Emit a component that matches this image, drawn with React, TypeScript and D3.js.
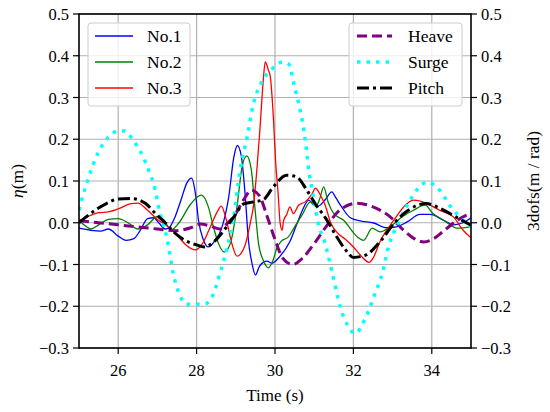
import * as d3 from 'd3';

type Pt = [number, number];

// wave elevation at the three probes (time s, eta m)
const no1: Pt[] = [
  [25.0, -0.013], [25.3, -0.018], [25.55, -0.02], [25.75, -0.015], [26.0, -0.032], [26.2, -0.042],
  [26.4, -0.038], [26.55, -0.02], [26.75, 0.01], [26.9, 0.012], [27.05, -0.002], [27.2, -0.015],
  [27.3, -0.012], [27.45, 0.014], [27.6, 0.054], [27.75, 0.095], [27.87, 0.107], [27.97, 0.07],
  [28.05, 0.005], [28.17, -0.04], [28.3, -0.058], [28.45, -0.045], [28.65, -0.01], [28.82, 0.062],
  [28.95, 0.157], [29.04, 0.185], [29.14, 0.16], [29.24, 0.065], [29.32, -0.04], [29.42, -0.1],
  [29.5, -0.125], [29.6, -0.105], [29.7, -0.095], [29.8, -0.092], [29.92, -0.097], [30.13, -0.08],
  [30.38, -0.045], [30.55, -0.005], [30.7, 0.03], [30.86, 0.054], [31.0, 0.042], [31.1, 0.04],
  [31.28, 0.055], [31.45, 0.074], [31.55, 0.06], [31.7, 0.038], [31.92, 0.012], [32.2, 0.004],
  [32.5, 0.0], [32.85, -0.012], [33.1, -0.01], [33.37, 0.002], [33.7, 0.02], [33.96, 0.02],
  [34.3, 0.006], [34.55, -0.005], [34.8, 0.0], [35.0, 0.012],
];
const no2: Pt[] = [
  [25.0, 0.006], [25.2, -0.01], [25.3, -0.015], [25.5, -0.005], [25.75, 0.008], [26.0, 0.01],
  [26.25, 0.0], [26.5, -0.015], [26.75, -0.005], [27.0, 0.015], [27.15, 0.008], [27.35, -0.017],
  [27.55, 0.0], [27.85, 0.045], [28.12, 0.066], [28.3, 0.038], [28.43, -0.01], [28.56, -0.05],
  [28.7, -0.07], [28.86, -0.05], [29.03, 0.038], [29.16, 0.134], [29.28, 0.16], [29.39, 0.13],
  [29.5, 0.024], [29.58, -0.05], [29.7, -0.09], [29.83, -0.108], [29.95, -0.09], [30.05, -0.06],
  [30.15, -0.045], [30.34, -0.034], [30.5, -0.01], [30.7, 0.02], [30.9, 0.05], [31.05, 0.04],
  [31.15, 0.06], [31.24, 0.086], [31.36, 0.048], [31.5, 0.022], [31.75, 0.006], [32.1, -0.034],
  [32.26, -0.042], [32.48, -0.013], [32.68, -0.022], [32.93, -0.01], [33.24, 0.014], [33.53, 0.03],
  [33.83, 0.042], [34.03, 0.022], [34.3, 0.006], [34.65, -0.013], [35.0, -0.01],
];
const no3: Pt[] = [
  [25.0, 0.005], [25.3, 0.018], [25.5, 0.024], [25.75, 0.026], [26.05, 0.035], [26.3, 0.045],
  [26.5, 0.047], [26.75, 0.03], [27.0, 0.008], [27.25, -0.008], [27.5, -0.03], [27.75, -0.055],
  [27.97, -0.065], [28.15, -0.05], [28.35, -0.01], [28.52, 0.025], [28.63, 0.04], [28.75, 0.01],
  [28.9, -0.05], [29.03, -0.08], [29.12, -0.075], [29.25, -0.05], [29.37, 0.0], [29.45, 0.04],
  [29.54, 0.13], [29.62, 0.23], [29.7, 0.34], [29.75, 0.385], [29.83, 0.366], [29.88, 0.35],
  [29.96, 0.25], [30.02, 0.14], [30.08, 0.07], [30.13, 0.0], [30.18, -0.018], [30.22, 0.005],
  [30.3, 0.02], [30.38, 0.038], [30.47, 0.022], [30.6, 0.042], [30.77, 0.05], [30.95, 0.07],
  [31.03, 0.083], [31.16, 0.066], [31.28, 0.042], [31.42, 0.0], [31.6, -0.025], [31.8, -0.04],
  [32.0, -0.058], [32.2, -0.08], [32.4, -0.095], [32.5, -0.085], [32.68, -0.045], [33.03, 0.006],
  [33.37, 0.046], [33.53, 0.054], [33.88, 0.046], [34.2, 0.03], [34.55, 0.014], [34.8, -0.018],
  [35.0, -0.036],
];

// 3 dof motions (m / rad)
const heave: Pt[] = [
  [25.0, 0.005], [25.5, 0.0], [26.0, -0.005], [26.5, -0.01], [27.0, -0.015], [27.45, -0.019],
  [27.85, -0.012], [28.1, -0.003], [28.35, -0.008], [28.6, -0.015], [28.8, 0.0], [28.95, 0.015],
  [29.2, 0.055], [29.4, 0.078], [29.6, 0.065], [29.8, 0.015], [30.0, -0.04], [30.2, -0.085],
  [30.45, -0.1], [30.7, -0.085], [31.0, -0.05], [31.3, -0.01], [31.65, 0.03], [32.1, 0.047],
  [32.5, 0.038], [32.94, 0.014], [33.28, -0.018], [33.55, -0.038], [33.8, -0.046], [34.05, -0.038],
  [34.3, -0.02], [34.65, 0.006], [35.0, 0.023],
];
const surge: Pt[] = [
  [25.0, 0.03], [25.1, 0.065], [25.25, 0.11], [25.5, 0.17], [25.75, 0.205], [26.0, 0.22],
  [26.15, 0.22], [26.4, 0.195], [26.65, 0.155], [26.8, 0.12], [26.9, 0.095], [27.05, 0.03],
  [27.25, -0.04], [27.4, -0.12], [27.58, -0.175], [27.75, -0.195], [28.0, -0.195], [28.2, -0.195],
  [28.43, -0.17], [28.6, -0.12], [28.78, -0.06], [28.95, 0.015], [29.1, 0.12], [29.3, 0.21],
  [29.45, 0.285], [29.65, 0.335], [29.9, 0.366], [30.2, 0.385], [30.35, 0.38], [30.5, 0.325],
  [30.64, 0.27], [30.77, 0.2], [30.85, 0.134], [30.95, 0.078], [31.1, 0.0], [31.28, -0.05],
  [31.46, -0.12], [31.66, -0.2], [31.85, -0.245], [32.04, -0.265], [32.3, -0.23], [32.55, -0.17],
  [32.74, -0.12], [32.9, -0.056], [33.15, 0.0], [33.45, 0.055], [33.88, 0.097], [34.2, 0.078],
  [34.47, 0.04], [34.8, 0.006], [35.0, -0.01],
];
const pitch: Pt[] = [
  [25.0, 0.0], [25.35, 0.026], [25.7, 0.046], [26.0, 0.057], [26.35, 0.058], [26.7, 0.046],
  [26.95, 0.022], [27.2, 0.0], [27.45, -0.025], [27.7, -0.042], [28.0, -0.053], [28.2, -0.058],
  [28.45, -0.045], [28.7, -0.018], [28.95, 0.014], [29.2, 0.045], [29.45, 0.05], [29.7, 0.055],
  [29.95, 0.085], [30.3, 0.114], [30.55, 0.11], [30.8, 0.08], [31.05, 0.042], [31.3, 0.01],
  [31.55, -0.03], [31.8, -0.065], [32.0, -0.083], [32.3, -0.078], [32.7, -0.043], [33.05, 0.0],
  [33.4, 0.03], [33.85, 0.046], [34.2, 0.035], [34.65, 0.012], [35.0, -0.006],
];

const xTicks = [26, 28, 30, 32, 34];
const yTicks = [-0.3, -0.2, -0.1, 0.0, 0.1, 0.2, 0.3, 0.4, 0.5];

const leftSeries = [
  { name: 'No.1', data: no1, color: '#0000ff' },
  { name: 'No.2', data: no2, color: '#008000' },
  { name: 'No.3', data: no3, color: '#ff0000' },
];
const rightSeries = [
  { name: 'Heave', data: heave, color: '#800080', width: 3, dash: '10 5' },
  { name: 'Surge', data: surge, color: '#00ffff', width: 3.5, dash: '3.5 6' },
  { name: 'Pitch', data: pitch, color: '#000000', width: 3, dash: '12 4 3 4' },
];

const W = 550;
const H = 412;
const left = 79;
const right = 471;
const top = 14;
const bottom = 348;
const font = '"Liberation Serif", "Times New Roman", serif';

const fmt = (v: number) => {
  const s = Math.abs(v).toFixed(1);
  return v < -1e-9 ? '\u2212' + s : s;
};

export default function App() {
  const x = d3.scaleLinear().domain([25, 35]).range([left, right]);
  const yL = d3.scaleLinear().domain([-0.3, 0.5]).range([bottom, top]);
  const yR = d3.scaleLinear().domain([-0.3, 0.5]).range([bottom, top]);

  const lineL = d3
    .line<Pt>()
    .x((d) => x(d[0]))
    .y((d) => yL(d[1]))
    .curve(d3.curveMonotoneX);
  const lineR = d3
    .line<Pt>()
    .x((d) => x(d[0]))
    .y((d) => yR(d[1]))
    .curve(d3.curveMonotoneX);

  return (
    <svg
      width={W}
      height={H}
      style={{ position: 'absolute', left: 0, top: 0, background: '#fff' }}
      fontFamily={font}
    >
      <defs>
        <clipPath id="plot">
          <rect x={left} y={top} width={right - left} height={bottom - top} />
        </clipPath>
      </defs>
      <rect width={W} height={H} fill="#fff" />

      {/* grid */}
      {xTicks.map((t) => (
        <line key={'gx' + t} x1={x(t)} x2={x(t)} y1={top} y2={bottom} stroke="#b0b0b0" strokeWidth={1.2} />
      ))}
      {yTicks.map((t) => (
        <line key={'gy' + t} x1={left} x2={right} y1={yL(t)} y2={yL(t)} stroke="#b0b0b0" strokeWidth={1.2} />
      ))}

      {/* wave probes */}
      <g clipPath="url(#plot)">
        {leftSeries.map((s) => (
          <path key={s.name} d={lineL(s.data) ?? ''} fill="none" stroke={s.color} strokeWidth={1.3} />
        ))}
      </g>

      {/* left legend */}
      <g>
        <rect x={88} y={23} width={102} height={83} rx={3} fill="#fff" fillOpacity={0.8} stroke="#cccccc" />
        {leftSeries.map((s, i) => (
          <g key={s.name}>
            <line x1={95} x2={133} y1={36 + i * 26} y2={36 + i * 26} stroke={s.color} strokeWidth={1.3} />
            <text x={147} y={36 + i * 26 + 6} fontSize={17.5}>
              {s.name}
            </text>
          </g>
        ))}
      </g>

      {/* motions */}
      <g clipPath="url(#plot)">
        {rightSeries.map((s) => (
          <path
            key={s.name}
            d={lineR(s.data) ?? ''}
            fill="none"
            stroke={s.color}
            strokeWidth={s.width}
            strokeDasharray={s.dash}
          />
        ))}
      </g>

      {/* right legend */}
      <g>
        <rect x={349} y={23} width={113} height={83} rx={3} fill="#fff" fillOpacity={0.8} stroke="#cccccc" />
        {rightSeries.map((s, i) => (
          <g key={s.name}>
            <line
              x1={357}
              x2={392}
              y1={36 + i * 26}
              y2={36 + i * 26}
              stroke={s.color}
              strokeWidth={s.width}
              strokeDasharray={s.dash}
            />
            <text x={408} y={36 + i * 26 + 6} fontSize={17.5}>
              {s.name}
            </text>
          </g>
        ))}
      </g>

      {/* frame */}
      <rect x={left} y={top} width={right - left} height={bottom - top} fill="none" stroke="#000" strokeWidth={1.6} />

      {/* x axis */}
      {xTicks.map((t) => (
        <g key={'xt' + t}>
          <line x1={x(t)} x2={x(t)} y1={bottom} y2={bottom + 6} stroke="#000" strokeWidth={1.2} />
          <text x={x(t)} y={bottom + 28} fontSize={16.5} textAnchor="middle">
            {t}
          </text>
        </g>
      ))}
      <text x={(left + right) / 2} y={401} fontSize={17} textAnchor="middle">
        Time (s)
      </text>

      {/* left y axis */}
      {yTicks.map((t) => (
        <g key={'yl' + t}>
          <line x1={left - 6} x2={left} y1={yL(t)} y2={yL(t)} stroke="#000" strokeWidth={1.2} />
          <text x={left - 10} y={yL(t) + 6} fontSize={16.5} textAnchor="end">
            {fmt(t)}
          </text>
        </g>
      ))}
      <text transform={`translate(23, ${(top + bottom) / 2}) rotate(-90)`} fontSize={17.5} textAnchor="middle">
        <tspan fontStyle="italic">η</tspan>(m)
      </text>

      {/* right y axis */}
      {yTicks.map((t) => (
        <g key={'yr' + t}>
          <line x1={right} x2={right + 6} y1={yR(t)} y2={yR(t)} stroke="#000" strokeWidth={1.2} />
          <text x={right + 10} y={yR(t) + 6} fontSize={16.5} textAnchor="start">
            {fmt(t)}
          </text>
        </g>
      ))}
      <text transform={`translate(539, ${(top + bottom) / 2}) rotate(-90)`} fontSize={17.5} textAnchor="middle">
        3dofs(m / rad)
      </text>
    </svg>
  );
}
